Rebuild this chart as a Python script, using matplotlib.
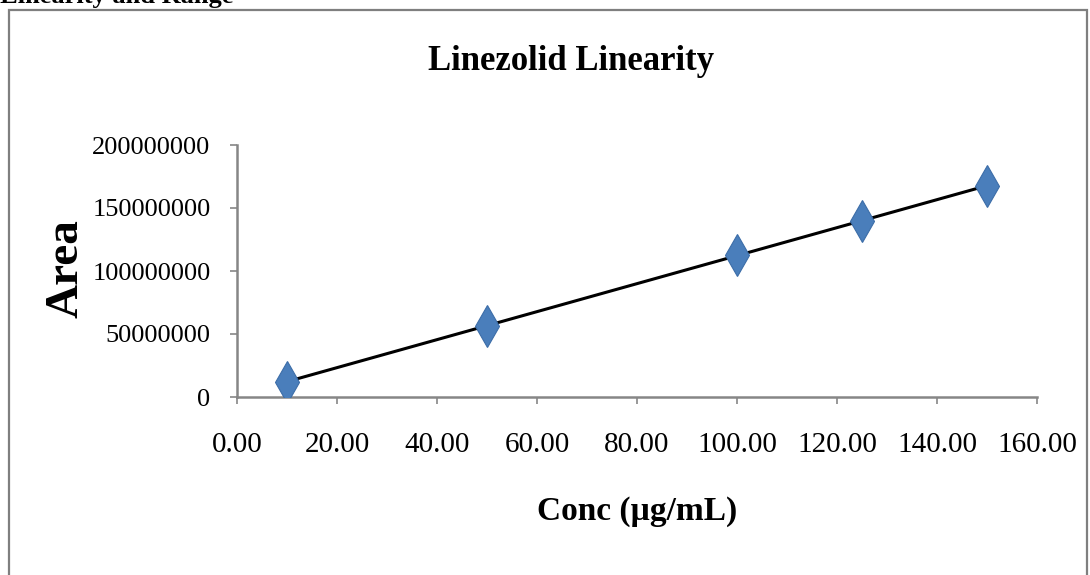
import numpy as np
import matplotlib
matplotlib.use("Agg")
import matplotlib.pyplot as plt
from matplotlib.patches import Rectangle
from matplotlib.ticker import FixedLocator, FuncFormatter

conc = [10, 50, 100, 125, 150]
area = [12.2e6, 56.5e6, 112.5e6, 139.8e6, 167.7e6]
x_ticks = [0, 20, 40, 60, 80, 100, 120, 140, 160]
y_ticks = [0, 50000000, 100000000, 150000000, 200000000]

SERIF = ["Liberation Serif", "DejaVu Serif"]
W, H = 1090, 575
fig = plt.figure(figsize=(W / 100, H / 100), dpi=100)

# outer frame
fig.patches.append(Rectangle((9 / W, -0.1), (1087 - 9) / W, 1.1 - 10 / H,
                             transform=fig.transFigure, fill=False,
                             edgecolor="#7f7f7f", linewidth=1.6))
fig.text(0.0, 1 - 3 / H, "Linearity and Range", family=SERIF, fontsize=19,
         fontweight="bold", va="baseline", ha="left")

ax = fig.add_axes([237 / W, (H - 397) / H, 800 / W, 252 / H])
ax.set_xlim(0, 160)
ax.set_ylim(0, 200000000)

coef = np.polyfit(conc, area, 1)
xl = np.array([min(conc), max(conc)])
ax.plot(xl, np.polyval(coef, xl), color="black", linewidth=2.2, zorder=2)
ax.plot(conc, area, linestyle="none", marker="d", markersize=21,
        color="#4A7EBB", markeredgecolor="#3C6DA8", markeredgewidth=0.8, zorder=3)

for s in ["top", "right"]:
    ax.spines[s].set_visible(False)
for s in ["left", "bottom"]:
    ax.spines[s].set_color("#868686")
    ax.spines[s].set_linewidth(1.8)

ax.xaxis.set_major_locator(FixedLocator(x_ticks))
ax.yaxis.set_major_locator(FixedLocator(y_ticks))
ax.xaxis.set_major_formatter(FuncFormatter(lambda v, p: f"{v:.2f}"))
ax.yaxis.set_major_formatter(FuncFormatter(lambda v, p: f"{int(v)}"))
ax.tick_params(axis="both", direction="out", length=5, width=1.2, color="#868686")
ax.tick_params(axis="x", pad=20, labelsize=21)
ax.tick_params(axis="y", pad=14, labelsize=19)
for lbl in ax.get_xticklabels() + ax.get_yticklabels():
    lbl.set_family(SERIF)

fig.text(571 / W, (H - 70) / H, "Linezolid Linearity", family=SERIF, fontsize=25,
         fontweight="bold", ha="center", va="baseline")
fig.text(637 / W, (H - 520) / H, "Conc (µg/mL)", family=SERIF, fontsize=24,
         fontweight="bold", ha="center", va="baseline")
fig.text(67 / W, (H - 269) / H, "Area", family=SERIF, fontsize=34,
         fontweight="bold", ha="center", va="center", rotation=90)

fig.savefig("out.png", dpi=100)
